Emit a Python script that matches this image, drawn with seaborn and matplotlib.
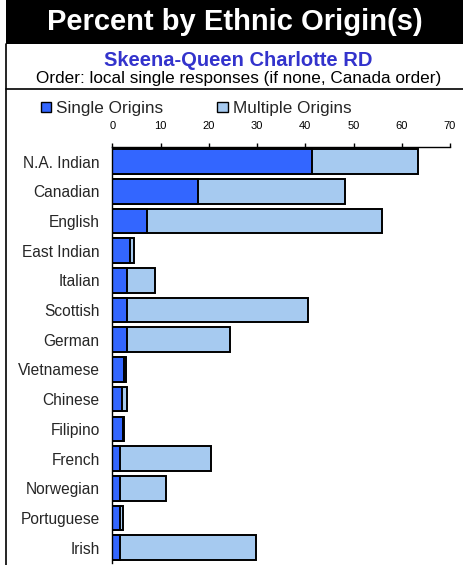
import matplotlib
matplotlib.use("Agg")
import matplotlib.pyplot as plt
from matplotlib.patches import Patch, Rectangle
from matplotlib.lines import Line2D
import seaborn as sns
import pandas as pd

categories = ["N.A. Indian", "Canadian", "English", "East Indian", "Italian", "Scottish",
              "German", "Vietnamese", "Chinese", "Filipino", "French", "Norwegian",
              "Portuguese", "Irish"]
single = [41.3, 17.8, 7.2, 3.7, 3.0, 3.0, 3.0, 2.5, 2.1, 2.2, 1.6, 1.6, 1.5, 1.5]
multiple = [22.0, 30.5, 48.8, 0.8, 5.8, 37.5, 21.4, 0.3, 1.0, 0.2, 18.9, 9.5, 0.8, 28.2]
xticks = [0, 10, 20, 30, 40, 50, 60, 70]

title = "Percent by Ethnic Origin(s)"
subtitle = "Skeena-Queen Charlotte RD"
note = "Order: local single responses (if none, Canada order)"

C_SINGLE = "#3366ff"
C_MULTI = "#a6caf0"

sns.set_style("white")
plt.rcParams["font.family"] = ["Liberation Sans", "DejaVu Sans"]

df = pd.DataFrame({"origin": categories, "single": single, "multiple": multiple})
df["total"] = df["single"] + df["multiple"]

W, H = 464, 565
fig = plt.figure(figsize=(W / 100, H / 100), dpi=100)

# banner
fig.patches.append(Rectangle((6 / W, 1 - 44 / H), 1 - 6 / W, 44 / H, transform=fig.transFigure,
                             facecolor="black", edgecolor="none", zorder=0))
fig.text((6 / W + 1) / 2, 1 - 22 / H, title, color="white", fontsize=21, fontweight="bold",
         ha="center", va="center")
fig.text(238 / W, 1 - 61 / H, subtitle, color="#3333cc", fontsize=14.5, fontweight="bold",
         ha="center", va="center")
fig.text(239 / W, 1 - 78 / H, note, color="black", fontsize=12.3, ha="center", va="center")
# frame lines
fig.add_artist(Line2D([6 / W, 6 / W], [0, 1 - 44 / H], transform=fig.transFigure, color="black", lw=1.2))
fig.add_artist(Line2D([6 / W, 1], [1 - 88.5 / H, 1 - 88.5 / H], transform=fig.transFigure, color="black", lw=1.2))

ax = fig.add_axes([112.3 / W, 1 - 562.5 / H, (450 - 112.3) / W, (562.5 - 146.7) / H])
sns.barplot(data=df, x="total", y="origin", orient="h", color=C_MULTI, edgecolor="black",
            linewidth=1.4, width=0.83, saturation=1, ax=ax)
sns.barplot(data=df, x="single", y="origin", orient="h", color=C_SINGLE, edgecolor="black",
            linewidth=1.4, width=0.83, saturation=1, ax=ax)

ax.set_xlim(0, 70)
ax.set_ylim(13.5, -0.5)
ax.set_xticks(xticks)
ax.xaxis.tick_top()
ax.tick_params(axis="x", direction="out", length=3, width=1, pad=8, labelsize=8, colors="black")
ax.tick_params(axis="y", length=0, pad=9, labelsize=11.2)
ax.set_xlabel("")
ax.set_ylabel("")
for s in ["right", "bottom"]:
    ax.spines[s].set_visible(False)
for s in ["top", "left"]:
    ax.spines[s].set_color("black")
    ax.spines[s].set_linewidth(1)

handles = [Patch(facecolor=C_SINGLE, edgecolor="black", linewidth=1, label="Single Origins"),
           Patch(facecolor=C_MULTI, edgecolor="black", linewidth=1, label="Multiple Origins")]
fig.legend(handles=handles, loc="center left", bbox_to_anchor=(41 / W, 1 - 108.5 / H), ncol=2,
           frameon=False, fontsize=12.3, handlelength=0.6, handleheight=0.6, handletextpad=0.3,
           columnspacing=3.15, borderaxespad=0, borderpad=0)

fig.savefig("out.png", dpi=100)
